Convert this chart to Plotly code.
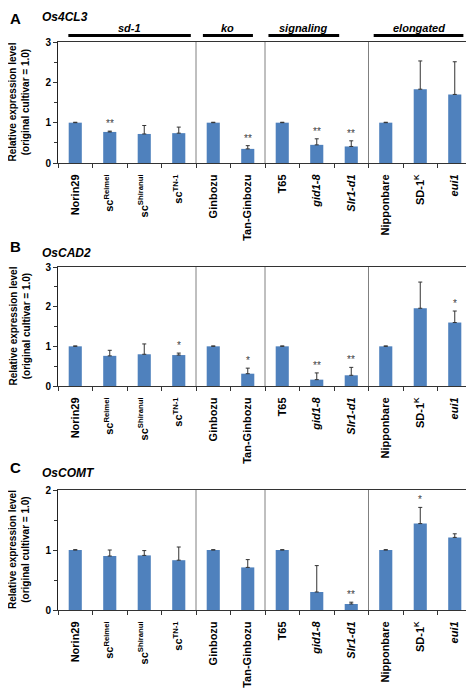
import plotly.graph_objects as go

categories = ["Norin29", "sc<sup>Reimei</sup>", "sc<sup>Shiranui</sup>", "sc<sup>TN-1</sup>",
              "Ginbozu", "Tan-Ginbozu", "T65", "<i>gid1-8</i>", "<i>Slr1-d1</i>",
              "Nipponbare", "SD-1<sup>K</sup>", "<i>eui1</i>"]
groups = ["sd-1", "ko", "signaling", "elongated"]

vals_A = [1.0, 0.77, 0.72, 0.74, 1.0, 0.35, 1.0, 0.45, 0.41, 1.0, 1.83, 1.70]
err_A = [0.01, 0.02, 0.21, 0.15, 0.01, 0.08, 0.01, 0.15, 0.14, 0.01, 0.70, 0.81]
sig_A = ["", "**", "", "", "", "**", "", "**", "**", "", "", ""]

vals_B = [1.0, 0.76, 0.80, 0.78, 1.0, 0.31, 1.0, 0.16, 0.27, 1.0, 1.96, 1.60]
err_B = [0.01, 0.14, 0.26, 0.05, 0.01, 0.14, 0.01, 0.17, 0.20, 0.01, 0.66, 0.29]
sig_B = ["", "", "", "*", "", "*", "", "**", "**", "", "", "*"]

vals_C = [1.0, 0.90, 0.91, 0.83, 1.0, 0.71, 1.0, 0.30, 0.10, 1.0, 1.44, 1.21]
err_C = [0.005, 0.10, 0.08, 0.22, 0.005, 0.13, 0.005, 0.44, 0.03, 0.005, 0.27, 0.06]
sig_C = ["", "", "", "", "", "", "", "", "**", "", "*", ""]

# letter, gene, values, errors, marks, y max, plot top/bottom (px), letter y, gene y
panels = [
    ("A", "Os4CL3", vals_A, err_A, sig_A, 3, [42, 163], None, None),
    ("B", "OsCAD2", vals_B, err_B, sig_B, 3, [267, 386], 247, 253),
    ("C", "OsCOMT", vals_C, err_C, sig_C, 2, [490, 610], 467, 473),
]

# the page body adds an 8px margin; lay out in window pixels and convert
OX, OY = 8, 8
W, H = 466, 680


def xp(px):
    return (px - OX) / W


def yp(py):
    return 1 - (py - OY) / H


FONT = "Arial, Liberation Sans, sans-serif"
BLUE = "#4F81BD"
x_idx = list(range(len(categories)))

fig = go.Figure()
shapes = []
annotations = []
layout = dict(
    width=W, height=H, margin=dict(l=0, r=0, t=0, b=0),
    paper_bgcolor="white", plot_bgcolor="white", showlegend=False,
    font=dict(family=FONT, color="black"),
)

for i, (letter, gene, vals, errs, sigs, ymax, (ytop, ybot), ly, gy) in enumerate(panels):
    n = "" if i == 0 else str(i + 1)
    fig.add_trace(go.Bar(
        x=x_idx, y=vals, width=0.38, marker=dict(color=BLUE, line=dict(width=0)),
        error_y=dict(type="data", symmetric=False, array=errs,
                     arrayminus=[0] * len(errs), thickness=1, width=2, color="#333333"),
        xaxis="x" + n, yaxis="y" + n,
    ))
    layout["xaxis" + n] = dict(
        domain=[xp(58), xp(472)], anchor="y" + n, range=[-0.5, 11.5],
        tickmode="array", tickvals=x_idx, ticktext=categories, tickangle=-90,
        ticks="", ticklabelstandoff=6,
        minor=dict(tickmode="array", tickvals=[k + 0.5 for k in range(-1, 12)],
                   ticks="outside", ticklen=4, tickcolor="#333333"),
        showline=True, linecolor="#333333", linewidth=1, mirror=True,
        showgrid=False, zeroline=False, automargin=False,
        tickfont=dict(family=FONT, size=11, color="black", weight="bold"),
        fixedrange=True,
    )
    yt = list(range(ymax + 1))
    layout["yaxis" + n] = dict(
        domain=[yp(ybot), yp(ytop)], anchor="x" + n, range=[0, ymax],
        tickmode="array", tickvals=yt, ticktext=[str(v) for v in yt],
        ticks="outside", ticklen=4, tickcolor="#333333",
        minor=dict(tickmode="array", tickvals=[v + 0.5 for v in range(ymax)],
                   ticks="outside", ticklen=3, tickcolor="#333333"),
        showline=True, linecolor="#222222", linewidth=1, mirror=True,
        showgrid=False, zeroline=False, automargin=False,
        tickfont=dict(family=FONT, size=10, color="black", weight="bold"),
        fixedrange=True,
    )
    for sx in (3.5, 5.5, 8.5):
        shapes.append(dict(type="line", xref="x" + n, yref="y" + n + " domain",
                           x0=sx, x1=sx, y0=0, y1=1,
                           line=dict(color="#808080", width=1)))
    for k, s in enumerate(sigs):
        if s:
            annotations.append(dict(x=k, y=vals[k] + errs[k], xref="x" + n, yref="y" + n,
                                    text=s, showarrow=False, yanchor="bottom", yshift=0,
                                    font=dict(family=FONT, size=10, color="#404040")))
    if ly is None:
        lpos = dict(y=1, yanchor="top")
        gpos = dict(y=1, yanchor="top")
    else:
        lpos = dict(y=yp(ly), yanchor="middle")
        gpos = dict(y=yp(gy), yanchor="middle")
    annotations.append(dict(x=0, xref="paper", yref="paper",
                            text="<b>%s</b>" % letter, showarrow=False, xanchor="left",
                            font=dict(family=FONT, size=15, color="black"), **lpos))
    annotations.append(dict(x=xp(40), xref="paper", yref="paper",
                            text="<b><i>%s</i></b>" % gene, showarrow=False, xanchor="left",
                            font=dict(family=FONT, size=12, color="black"), **gpos))
    annotations.append(dict(x=xp(19), y=yp((ytop + ybot) / 2), xref="paper", yref="paper",
                            text="<b>Relative expression level<br>(original cultivar = 1.0)</b>",
                            showarrow=False, textangle=-90, xanchor="center", yanchor="middle",
                            font=dict(family=FONT, size=10, color="black")))

header_spans = [(-0.2, 3.35), (3.7, 5.15), (5.6, 7.65), (8.65, 11.25)]
for g, (a, b) in zip(groups, header_spans):
    shapes.append(dict(type="line", xref="x", yref="paper", x0=a, x1=b,
                       y0=yp(35.5), y1=yp(35.5),
                       line=dict(color="black", width=3)))
    annotations.append(dict(x=(a + b) / 2, y=yp(28), xref="x", yref="paper",
                            text="<b><i>%s</i></b>" % g, showarrow=False,
                            xanchor="center", yanchor="middle",
                            font=dict(family=FONT, size=11, color="black")))

layout["shapes"] = shapes
layout["annotations"] = annotations
fig.update_layout(**layout)
fig.write_html("out.html")
